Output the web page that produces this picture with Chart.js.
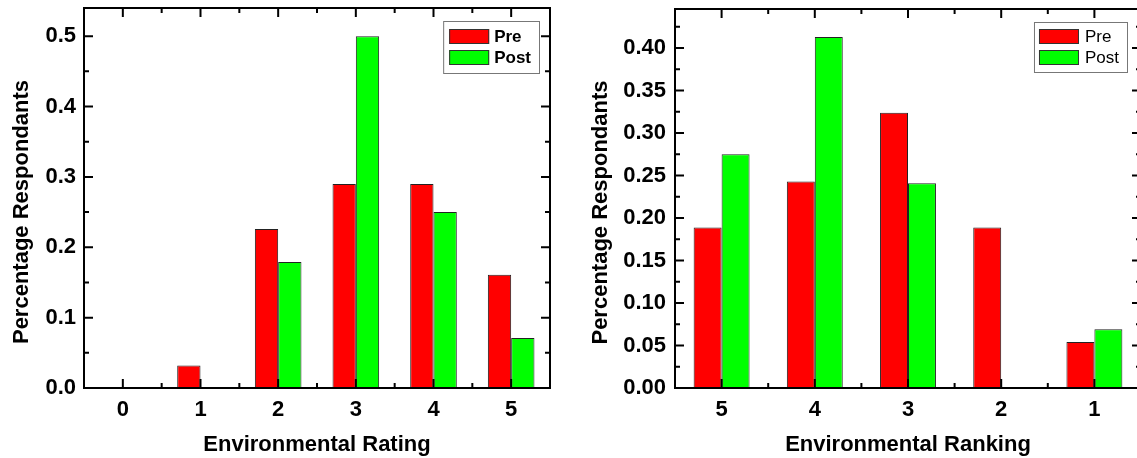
<!DOCTYPE html>
<html>
<head>
<meta charset="utf-8">
<script src="https://cdn.jsdelivr.net/npm/chart.js@4.4.1/dist/chart.umd.min.js"></script>
<style>
  html, body { margin: 0; padding: 0; background: #fff; overflow: hidden; }
  .panel { position: absolute; top: 0; height: 458px; }
  #leftPanel { left: 0; width: 575px; }
  #rightPanel { left: 580px; width: 570px; }
</style>
</head>
<body>
<div class="panel" id="leftPanel"><canvas id="ratingChart"></canvas></div>
<div class="panel" id="rightPanel"><canvas id="rankingChart"></canvas></div>
<script>
const FONT = "\"Liberation Sans\", Arial, sans-serif";
Chart.defaults.font.family = FONT;
Chart.defaults.color = "#000";

// left panel: rating
const ratingLabels = ["0", "1", "2", "3", "4", "5"];
const ratingPre = [0, 0.032, 0.226, 0.29, 0.29, 0.161];
const ratingPost = [0, 0, 0.179, 0.5, 0.25, 0.071];
const ratingTicks = [0, 0.1, 0.2, 0.3, 0.4, 0.5];

// right panel: ranking
const rankingLabels = ["5", "4", "3", "2", "1"];
const rankingPre = [0.189, 0.243, 0.324, 0.189, 0.054];
const rankingPost = [0.275, 0.413, 0.241, 0, 0.069];
const rankingTicks = [0, 0.05, 0.10, 0.15, 0.20, 0.25, 0.30, 0.35, 0.40];

const PRE_COLOR = "#ff0000";
const POST_COLOR = "#00ff00";
const Y_TITLE = "Percentage Respondants";

// Origin-style frame: closed box, inward major/minor ticks, boxed legend, y title
Chart.register({
  id: "originFrame",
  afterDatasetsDraw(chart, args, opts) {
    if (!opts || !opts.enabled) return;
    const ctx = chart.ctx;
    const a = chart.chartArea;
    const xs = chart.scales.x;
    const ys = chart.scales.y;

    ctx.save();
    ctx.strokeStyle = "#000";
    ctx.lineWidth = 2;
    ctx.beginPath();

    const step = opts.yMajor[1] - opts.yMajor[0];
    opts.yMajor.forEach((v) => {
      const py = ys.getPixelForValue(v);
      ctx.moveTo(a.left, py); ctx.lineTo(a.left + opts.major, py);
      ctx.moveTo(a.right, py); ctx.lineTo(a.right - opts.major, py);
      const m = v + step / 2;
      if (m < ys.max) {
        const pm = ys.getPixelForValue(m);
        ctx.moveTo(a.left, pm); ctx.lineTo(a.left + opts.minor, pm);
        ctx.moveTo(a.right, pm); ctx.lineTo(a.right - opts.minor, pm);
      }
    });

    const n = chart.data.labels.length;
    for (let i = 0; i < n; i++) {
      const px = xs.getPixelForValue(i);
      ctx.moveTo(px, a.bottom); ctx.lineTo(px, a.bottom - opts.major);
      ctx.moveTo(px, a.top); ctx.lineTo(px, a.top + opts.major);
      if (i < n - 1) {
        const pm = (px + xs.getPixelForValue(i + 1)) / 2;
        ctx.moveTo(pm, a.bottom); ctx.lineTo(pm, a.bottom - opts.minor);
        ctx.moveTo(pm, a.top); ctx.lineTo(pm, a.top + opts.minor);
      }
    }
    ctx.stroke();
    ctx.strokeRect(a.left, a.top, a.right - a.left, a.bottom - a.top);

    // y axis title, sits a bit below the plot centre like the original
    ctx.save();
    ctx.translate(opts.yTitleX, (a.top + a.bottom) / 2 + opts.yTitleShift);
    ctx.rotate(-Math.PI / 2);
    ctx.font = `bold 22px ${FONT}`;
    ctx.fillStyle = "#000";
    ctx.textAlign = "center";
    ctx.textBaseline = "middle";
    ctx.fillText(Y_TITLE, 0, 0);
    ctx.restore();

    // legend
    const lg = opts.legend;
    const items = chart.data.datasets;
    ctx.font = `${lg.weight} ${lg.size}px ${FONT}`;
    const textW = Math.max(...items.map((d) => ctx.measureText(d.label).width));
    const w = lg.padLeft + lg.swatchW + lg.gap + textW + lg.padRight;
    const h = lg.padY * 2 + lg.swatchH + lg.rowH * (items.length - 1);
    const bx = a.right - lg.right - w;
    const by = a.top + lg.top;
    ctx.fillStyle = "#fff";
    ctx.fillRect(bx, by, w, h);
    ctx.lineWidth = 1;
    ctx.strokeStyle = "#777";
    ctx.strokeRect(bx + 0.5, by + 0.5, w, h);
    items.forEach((d, i) => {
      const sx = bx + lg.padLeft;
      const sy = by + lg.padY + i * lg.rowH;
      ctx.fillStyle = d.backgroundColor;
      ctx.fillRect(sx, sy, lg.swatchW, lg.swatchH);
      ctx.strokeStyle = "#333";
      ctx.strokeRect(sx + 0.5, sy + 0.5, lg.swatchW - 1, lg.swatchH - 1);
      ctx.fillStyle = "#000";
      ctx.textAlign = "left";
      ctx.textBaseline = "middle";
      ctx.fillText(d.label, sx + lg.swatchW + lg.gap, sy + lg.swatchH / 2 + 1);
    });
    ctx.restore();
  }
});

function makeChart(canvasId, cfg) {
  return new Chart(document.getElementById(canvasId), {
    type: "bar",
    data: {
      labels: cfg.labels,
      datasets: [
        {
          label: "Pre",
          data: cfg.pre,
          backgroundColor: PRE_COLOR,
          borderColor: "#222",
          borderWidth: 1,
          borderSkipped: false,
          categoryPercentage: 0.6,
          barPercentage: 1.0
        },
        {
          label: "Post",
          data: cfg.post,
          backgroundColor: POST_COLOR,
          borderColor: "#222",
          borderWidth: 1,
          borderSkipped: false,
          categoryPercentage: 0.6,
          barPercentage: 1.0
        }
      ]
    },
    options: {
      responsive: true,
      maintainAspectRatio: false,
      animation: false,
      layout: { padding: { top: cfg.padTop, right: cfg.padRight, left: 0, bottom: 0 } },
      plugins: {
        legend: { display: false },
        tooltip: { enabled: false },
        originFrame: {
          enabled: true,
          yMajor: cfg.ticks,
          major: 9,
          minor: 5,
          yTitleX: cfg.yTitleX,
          yTitleShift: 14,
          legend: cfg.legend
        }
      },
      scales: {
        x: {
          offset: true,
          grid: { display: false, drawTicks: false },
          border: { display: false },
          ticks: {
            autoSkip: false,
            maxRotation: 0,
            padding: 9,
            font: { size: 22, weight: "bold" }
          },
          title: {
            display: true,
            text: cfg.xTitle,
            font: { size: 22, weight: "bold" },
            padding: { top: 0, bottom: 0 }
          },
          afterFit: (s) => { s.height = 70; s.paddingLeft = 0; s.paddingRight = 0; }
        },
        y: {
          min: 0,
          max: cfg.yMax,
          grid: { display: false, drawTicks: false },
          border: { display: false },
          afterBuildTicks: (s) => { s.ticks = cfg.ticks.map((v) => ({ value: v })); },
          ticks: {
            padding: cfg.tickPad,
            font: { size: 22, weight: "bold" },
            callback: (v) => Number(v).toFixed(cfg.decimals)
          },
          afterFit: (s) => { s.width = cfg.yWidth; s.paddingTop = 0; s.paddingBottom = 0; }
        }
      }
    }
  });
}

makeChart("ratingChart", {
  labels: ratingLabels,
  pre: ratingPre,
  post: ratingPost,
  ticks: ratingTicks,
  yMax: 0.54,
  decimals: 1,
  xTitle: "Environmental Rating",
  padTop: 8,
  padRight: 25,
  yWidth: 84,
  tickPad: 8,
  yTitleX: 22,
  legend: { weight: "bold", size: 17, padLeft: 6, padRight: 8, swatchW: 40, swatchH: 15, gap: 5, rowH: 21, padY: 8, right: 11, top: 13 }
});

makeChart("rankingChart", {
  labels: rankingLabels,
  pre: rankingPre,
  post: rankingPost,
  ticks: rankingTicks,
  yMax: 0.446,
  decimals: 2,
  xTitle: "Environmental Ranking",
  padTop: 9,
  padRight: 9,
  yWidth: 95,
  tickPad: 9,
  yTitleX: 21,
  legend: { weight: "normal", size: 17, padLeft: 5, padRight: 8, swatchW: 40, swatchH: 15, gap: 6, rowH: 21, padY: 7, right: 14, top: 13 }
});
</script>
</body>
</html>
